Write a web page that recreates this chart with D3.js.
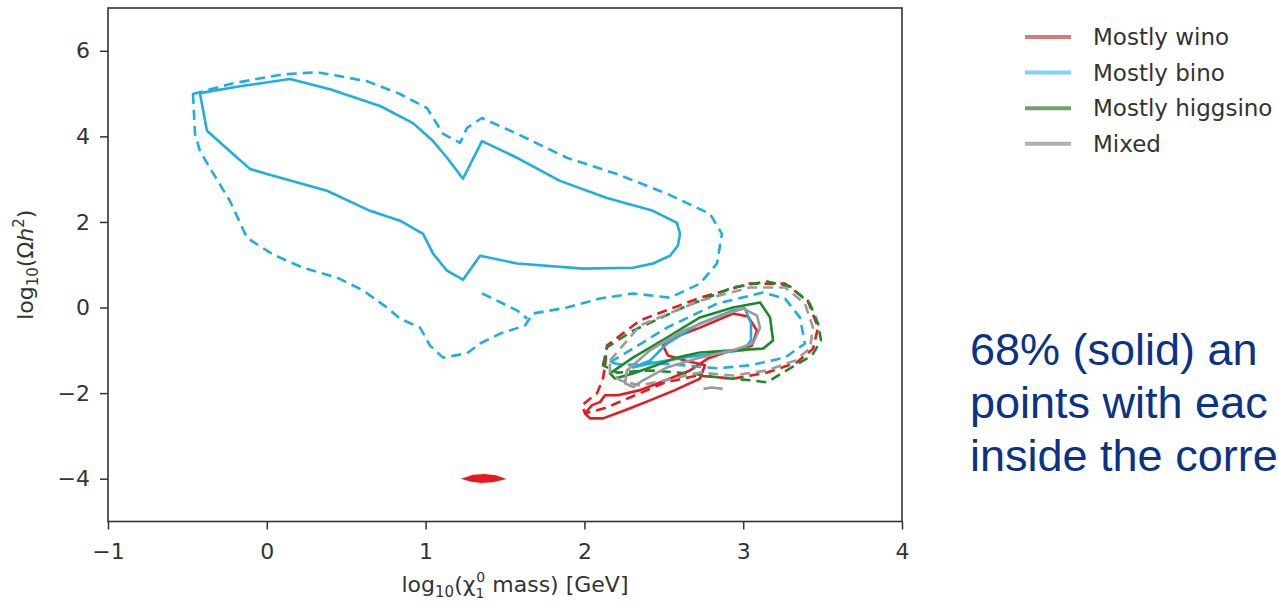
<!DOCTYPE html>
<html>
<head>
<meta charset="utf-8">
<script src="https://cdn.jsdelivr.net/npm/d3@7"></script>
<style>
  html, body { margin: 0; padding: 0; background: #fff; overflow: hidden; }
  svg { display: block; }
</style>
</head>
<body>
<div id="chart"></div>
<script>
// axis ticks
const xTicks = [-1, 0, 1, 2, 3, 4];
const yTicks = [-4, -2, 0, 2, 4, 6];

// contour outlines, [log10 mass, log10 Omega h^2]
const binoSolid = [
  [-0.421, 5.01], [-0.169, 5.17], [0.146, 5.34], [0.398, 5.10], [0.713, 4.71], [0.921, 4.31],
  [1.047, 3.89], [1.135, 3.50], [1.235, 3.01], [1.355, 3.89], [1.576, 3.50], [1.846, 2.96],
  [2.142, 2.56], [2.432, 2.26], [2.583, 1.98], [2.602, 1.72], [2.589, 1.45], [2.539, 1.21],
  [2.432, 1.03], [2.306, 0.93], [1.991, 0.91], [1.576, 1.03], [1.343, 1.21], [1.235, 0.65],
  [1.135, 0.86], [1.047, 1.26], [0.984, 1.72], [0.839, 2.03], [0.650, 2.26], [0.379, 2.73],
  [0.001, 3.12], [-0.106, 3.24], [-0.213, 3.59], [-0.377, 4.13]
];
const binoDashed = [
  [-0.465, 4.99], [-0.213, 5.24], [0.102, 5.45], [0.316, 5.50], [0.631, 5.29], [0.839, 4.99],
  [1.009, 4.66], [1.110, 4.06], [1.217, 3.85], [1.261, 4.20], [1.355, 4.43], [1.576, 4.06],
  [1.890, 3.50], [2.205, 3.12], [2.520, 2.66], [2.791, 2.19], [2.866, 1.72], [2.835, 1.03],
  [2.728, 0.56], [2.539, 0.23], [2.306, 0.33], [2.098, 0.21], [1.890, 0.00], [1.676, -0.14],
  [1.626, -0.42], [1.469, -0.61], [1.343, -0.84], [1.261, -1.07], [1.110, -1.17], [1.028, -0.89],
  [0.965, -0.47], [0.839, -0.26], [0.757, 0.00], [0.606, 0.40], [0.442, 0.70], [0.228, 0.93],
  [0.039, 1.24], [-0.125, 1.63], [-0.232, 2.49], [-0.358, 3.26], [-0.421, 3.66], [-0.452, 4.06]
];
const binoInlet = [[1.355, 0.33], [1.45, 0.16], [1.576, -0.07], [1.64, -0.26]];
const binoSmallSolid = [
  [2.306, -1.40], [2.413, -1.24], [2.520, -0.84], [2.728, -0.37], [2.936, -0.07], [3.011, -0.02],
  [3.049, -0.37], [3.049, -0.77], [2.999, -1.00], [2.835, -1.07], [2.621, -1.17], [2.413, -1.31]
];
const binoSmallDashed = [
  [2.161, -1.28], [2.287, -1.00], [2.520, -0.47], [2.835, 0.09], [3.125, 0.35], [3.263, 0.21],
  [3.357, -0.23], [3.389, -0.84], [3.263, -1.17], [3.043, -1.35], [2.835, -1.42], [2.621, -1.35],
  [2.413, -1.28], [2.256, -1.35]
];

const winoSolid = [
  [2.495, -0.89], [2.602, -0.65], [2.728, -0.47], [2.936, -0.14], [3.030, -0.21], [3.087, -0.54],
  [3.055, -0.89], [2.885, -1.05], [2.778, -1.19], [2.665, -1.47], [2.476, -1.75], [2.350, -1.93],
  [2.212, -2.05], [2.130, -2.05], [2.098, -2.21], [2.048, -2.28], [2.004, -2.47], [2.035, -2.59],
  [2.117, -2.59], [2.256, -2.40], [2.413, -2.17], [2.570, -1.93], [2.728, -1.66], [2.759, -1.35],
  [2.633, -1.24], [2.526, -1.12]
];
const winoDashed = [
  [2.130, -1.35], [2.142, -0.89], [2.350, -0.30], [2.728, 0.23], [3.043, 0.56], [3.263, 0.56],
  [3.407, 0.16], [3.471, -0.47], [3.440, -0.96], [3.339, -1.28], [3.150, -1.52], [2.936, -1.66],
  [2.709, -1.59], [2.508, -1.75], [2.319, -2.05], [2.130, -2.35], [2.004, -2.47], [1.985, -2.28],
  [2.080, -2.00], [2.117, -1.66]
];
const winoBlob = [
  [1.25, -4.00], [1.30, -3.94], [1.37, -3.92], [1.44, -3.95], [1.48, -4.00], [1.42, -4.05],
  [1.35, -4.07], [1.29, -4.04]
];

const higgsinoSolid = [
  [2.161, -1.54], [2.306, -1.17], [2.520, -0.70], [2.728, -0.23], [2.936, 0.00], [3.106, 0.12],
  [3.169, -0.23], [3.188, -0.77], [3.125, -0.96], [2.936, -1.00], [2.728, -1.05], [2.583, -1.17],
  [2.413, -1.40], [2.306, -1.54], [2.193, -1.66]
];
const higgsinoDashed = [
  [2.117, -1.35], [2.142, -0.93], [2.306, -0.54], [2.621, 0.00], [2.936, 0.47], [3.150, 0.61],
  [3.295, 0.49], [3.420, 0.09], [3.471, -0.37], [3.490, -0.77], [3.433, -1.12], [3.250, -1.52],
  [3.150, -1.75], [3.043, -1.70], [2.835, -1.63], [2.665, -1.54], [2.413, -1.47], [2.206, -1.52]
];

const mixedSolid = [
  [2.268, -1.47], [2.413, -1.00], [2.621, -0.54], [2.835, -0.23], [2.999, -0.02], [3.087, -0.19],
  [3.106, -0.47], [3.062, -0.84], [2.936, -1.00], [2.728, -1.17], [2.520, -1.40], [2.369, -1.70],
  [2.306, -1.86], [2.256, -1.77]
];
const mixedDashed = [
  [2.161, -1.24], [2.350, -0.42], [2.728, 0.16], [3.043, 0.47], [3.263, 0.47], [3.389, 0.09],
  [3.440, -0.47], [3.420, -0.96], [3.326, -1.24], [3.150, -1.47], [2.936, -1.59], [2.728, -1.52],
  [2.508, -1.70], [2.350, -1.82], [2.224, -1.70], [2.161, -1.52]
];
const mixedBlob = [[2.75, -1.90], [2.80, -1.87], [2.87, -1.90]];

const legendNames = ['Mostly wino', 'Mostly bino', 'Mostly higgsino', 'Mixed'];
const lineColors = ['#e8191e', '#1eaee0', '#1c8a2c', '#9a9a9a'];
const legendColors = ['#d67b7b', '#80d4f1', '#6fa06f', '#b0b0b0'];

// side note, cut at the slide edge as in the source
const noteLines = ['68% (solid) an', 'points with eac', 'inside the corre'];

const W = 1278, H = 606;
const plot = { left: 108, right: 902, top: 8, bottom: 521.5 };

const svg = d3.select('#chart').append('svg')
  .attr('width', W).attr('height', H)
  .style('background', '#fff');

const x = d3.scaleLinear().domain([-1, 4]).range([plot.left, plot.right]);
const y = d3.scaleLinear().domain([-5, 7]).range([plot.bottom, plot.top]);

const closed = d3.line().x(d => x(d[0])).y(d => y(d[1])).curve(d3.curveLinearClosed);
const open = d3.line().x(d => x(d[0])).y(d => y(d[1])).curve(d3.curveLinear);

const layers = [
  { color: lineColors[0], solid: [winoSolid], dashed: [winoDashed], blob: winoBlob },
  { color: lineColors[1], solid: [binoSolid, binoSmallSolid], dashed: [binoDashed, binoSmallDashed], inlet: binoInlet },
  { color: lineColors[2], solid: [higgsinoSolid], dashed: [higgsinoDashed] },
  { color: lineColors[3], solid: [mixedSolid], dashed: [mixedDashed], tick: mixedBlob }
];

const g = svg.append('g');
layers.forEach(l => {
  l.dashed.forEach(c => g.append('path').attr('d', closed(c))
    .attr('fill', 'none').attr('stroke', l.color).attr('stroke-width', 2.6)
    .attr('stroke-dasharray', '10,6').attr('stroke-linejoin', 'round'));
  l.solid.forEach(c => g.append('path').attr('d', closed(c))
    .attr('fill', 'none').attr('stroke', l.color).attr('stroke-width', 2.6)
    .attr('stroke-linejoin', 'round'));
  if (l.inlet) g.append('path').attr('d', open(l.inlet))
    .attr('fill', 'none').attr('stroke', l.color).attr('stroke-width', 2.6)
    .attr('stroke-dasharray', '10,6');
  if (l.blob) g.append('path').attr('d', closed(l.blob))
    .attr('fill', l.color).attr('stroke', l.color).attr('stroke-width', 2.6);
  if (l.tick) g.append('path').attr('d', open(l.tick))
    .attr('fill', 'none').attr('stroke', l.color).attr('stroke-width', 2.6);
});

// axes
const fmt = d => d3.format('d')(d).replace('-', '\u2212');
const xAxis = svg.append('g')
  .attr('transform', `translate(0,${plot.bottom})`)
  .call(d3.axisBottom(x).tickValues(xTicks).tickSize(8).tickPadding(14).tickFormat(fmt));
const yAxis = svg.append('g')
  .attr('transform', `translate(${plot.left},0)`)
  .call(d3.axisLeft(y).tickValues(yTicks).tickSize(8).tickPadding(10).tickFormat(fmt));
[xAxis, yAxis].forEach(a => {
  a.select('.domain').remove();
  a.selectAll('line').attr('stroke', '#333').attr('stroke-width', 1.5);
  a.selectAll('text').attr('fill', '#333')
    .style('font-family', '"DejaVu Sans", sans-serif').style('font-size', '22px');
});

svg.append('rect')
  .attr('x', plot.left).attr('y', plot.top)
  .attr('width', plot.right - plot.left).attr('height', plot.bottom - plot.top)
  .attr('fill', 'none').attr('stroke', '#333').attr('stroke-width', 1.6);

// axis labels
const xl = svg.append('text')
  .attr('x', (plot.left + plot.right) / 2 + 10).attr('y', 592)
  .attr('text-anchor', 'middle').attr('fill', '#333')
  .style('font-family', '"DejaVu Sans", sans-serif').style('font-size', '22px');
xl.append('tspan').text('log');
xl.append('tspan').attr('dy', 5).style('font-size', '15px').text('10');
xl.append('tspan').attr('dy', -5).text('(\u03c7');
xl.append('tspan').attr('dy', 6).style('font-size', '14px').text('1');
xl.append('tspan').attr('dx', -8).attr('dy', -16).style('font-size', '14px').text('0');
xl.append('tspan').attr('dy', 10).text(' mass) [GeV]');

const yl = svg.append('text')
  .attr('transform', `translate(33,${(plot.top + plot.bottom) / 2}) rotate(-90)`)
  .attr('text-anchor', 'middle').attr('fill', '#333')
  .style('font-family', '"DejaVu Sans", sans-serif').style('font-size', '22px');
yl.append('tspan').text('log');
yl.append('tspan').attr('dy', 5).style('font-size', '15px').text('10');
yl.append('tspan').attr('dy', -5).text('(\u03a9');
yl.append('tspan').style('font-style', 'italic').text('h');
yl.append('tspan').attr('dy', -9).style('font-size', '15px').text('2');
yl.append('tspan').attr('dy', 9).text(')');

// legend
const leg = svg.append('g');
legendNames.forEach((name, i) => {
  const ly = 37 + i * 35.6;
  leg.append('line').attr('x1', 1025).attr('x2', 1071).attr('y1', ly).attr('y2', ly)
    .attr('stroke', legendColors[i]).attr('stroke-width', 4);
  leg.append('text').attr('x', 1093).attr('y', ly).attr('dy', '0.36em')
    .attr('fill', '#333')
    .style('font-family', '"DejaVu Sans", sans-serif').style('font-size', '23px')
    .text(name);
});

noteLines.forEach((t, i) => {
  svg.append('text').attr('x', 970).attr('y', 365 + i * 53)
    .attr('fill', '#0a3286')
    .style('font-family', '"Liberation Sans", Arial, sans-serif').style('font-size', '45px')
    .text(t);
});
</script>
</body>
</html>
